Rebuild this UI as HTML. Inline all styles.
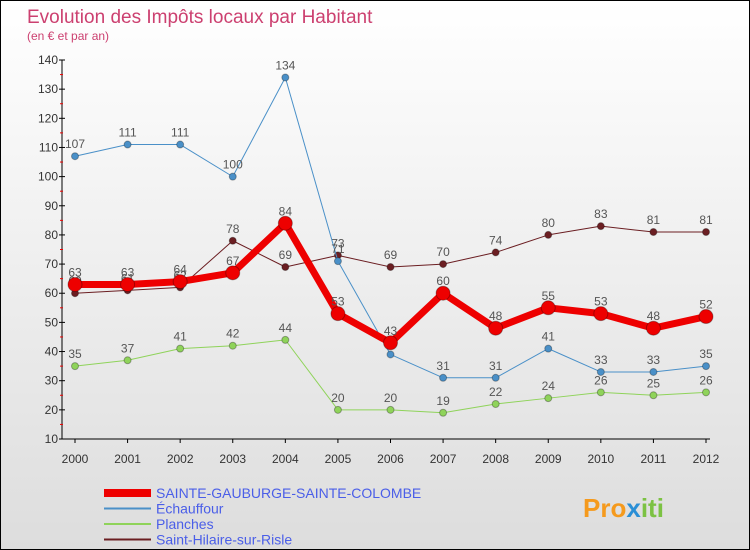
<!DOCTYPE html>
<html><head><meta charset="utf-8"><style>
body{margin:0}
#c{width:748px;height:548px;border:1px solid #000;background:linear-gradient(#fff,#ddd);position:relative;font-family:"Liberation Sans",sans-serif;overflow:hidden}
</style></head><body>
<div id="c">
<svg id="s" width="748" height="548" xmlns="http://www.w3.org/2000/svg">
<text x="26" y="22" font-size="19" fill="#cc4070">Evolution des Impôts locaux par Habitant</text>
<text x="26" y="39" font-size="12" fill="#cc4070">(en € et par an)</text>
<g id="ax"></g><g id="ser"></g><g id="leg"></g>
<text x="582" y="516" font-size="26" font-weight="bold" fill="#f59a1d">Pro<tspan fill="#2a8fd6">x</tspan><tspan fill="#7cc243">iti</tspan></text>
</svg></div>
<script>
const years=[2000,2001,2002,2003,2004,2005,2006,2007,2008,2009,2010,2011,2012];
const yTicks=[10,20,30,40,50,60,70,80,90,100,110,120,130,140];
const mainVals=[63,63,64,67,84,53,43,60,48,55,53,48,52];
const echVals=[107,111,111,100,134,71,39,31,31,41,33,33,35];
const plaVals=[35,37,41,42,44,20,20,19,22,24,26,25,26];
const shVals=[60,61,62,78,69,73,69,70,74,80,83,81,81];
const NS="http://www.w3.org/2000/svg";
const X=i=>74+i*(631/12), Y=v=>438-(v-10)*(379/130);
function mk(t,a,p){const e=document.createElementNS(NS,t);for(const k in a)e.setAttribute(k,a[k]);p.appendChild(e);return e;}
const ax=document.getElementById('ax');
let l=mk('line',{x1:61,y1:Y(140),x2:61,y2:Y(10),stroke:'#000'},ax);

l=mk('line',{x1:61,y1:Y(10),x2:X(12)+4,y2:Y(10),stroke:'#000'},ax);

yTicks.forEach(v=>{mk('line',{x1:58,y1:Y(v),x2:64,y2:Y(v),stroke:'#000'},ax);
 if(v<140)mk('line',{x1:59,y1:Y(v+5),x2:62,y2:Y(v+5),stroke:'#e00'},ax);
 const t=mk('text',{x:57,y:Y(v)+4,'font-size':12,fill:'#333','text-anchor':'end'},ax);t.textContent=v;
 });
years.forEach((y,i)=>{mk('line',{x1:X(i),y1:Y(10),x2:X(i),y2:Y(10)+4,stroke:'#000'},ax);
 const t=mk('text',{x:X(i),y:Y(10)+24,'font-size':12,fill:'#333','text-anchor':'middle'},ax);t.textContent=y;
 });
const series=[
 {n:'Saint-Hilaire-sur-Risle',v:shVals,c:'#6b1e22',w:1,r:3.5,name:'saint-hilaire'},
 {n:'Planches',v:plaVals,c:'#8fd35a',w:1,r:3.5,name:'planches'},
 {n:'Échauffour',v:echVals,c:'#4a90c8',w:1,r:3.5,name:'echauffour'},
 {n:'SAINTE-GAUBURGE-SAINTE-COLOMBE',v:mainVals,c:'#ee0000',w:7,r:7,name:'sainte-gauburge'}];
const sg=document.getElementById('ser');
series.forEach(s=>{const g=mk('g',{},sg);
 const p=mk('polyline',{points:s.v.map((v,i)=>X(i)+','+Y(v)).join(' '),fill:'none',stroke:s.c,'stroke-width':s.w,'stroke-linejoin':'round'},g);
 
 s.v.forEach((v,i)=>{const c=mk('circle',{cx:X(i),cy:Y(v),r:s.r,fill:s.c,stroke:'rgba(0,0,0,0.3)'},g);
  
  const t=mk('text',{x:X(i),y:Y(v)-8,'font-size':12,fill:'#555','text-anchor':'middle'},g);t.textContent=v;
  });});
const lg=document.getElementById('leg');
[series[3],series[2],series[1],series[0]].forEach((s,k)=>{const y=492+k*15.5;
 const e=mk('line',{x1:103,y1:y,x2:150,y2:y,stroke:s.c,'stroke-width':s.w===7?8:2},lg);
 
 const t=mk('text',{x:155,y:y+5,'font-size':14,fill:'#4a5ee8'},lg);t.textContent=s.n;
 });
</script>
</body></html>
